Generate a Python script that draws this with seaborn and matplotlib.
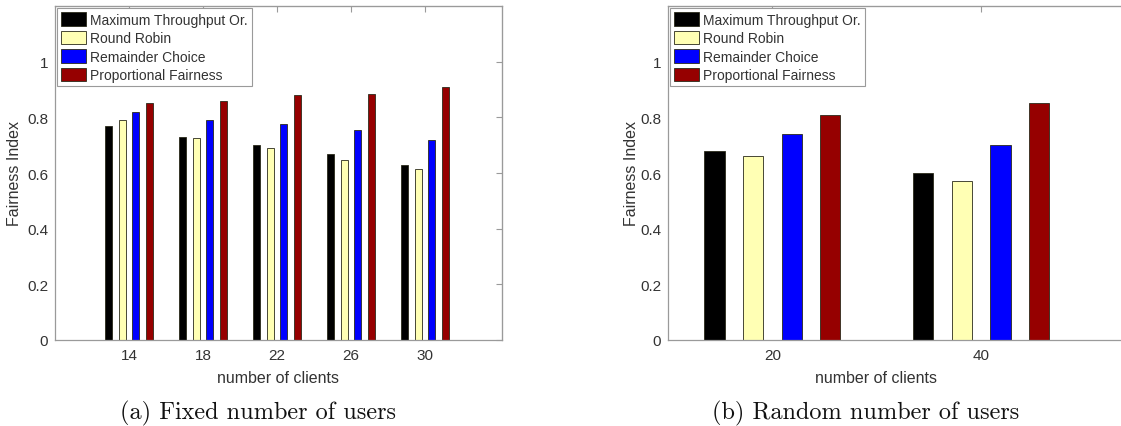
import matplotlib
matplotlib.use("Agg")
import matplotlib.pyplot as plt
import pandas as pd
import seaborn as sns

# Fairness index values
methods = ["Maximum Throughput Or.", "Round Robin", "Remainder Choice", "Proportional Fairness"]
colors = ["#000000", "#FFFFB4", "#0000FF", "#960000"]

clients_a = [14, 18, 22, 26, 30]
max_tp_a = [0.77, 0.73, 0.70, 0.67, 0.63]
round_robin_a = [0.79, 0.725, 0.69, 0.645, 0.615]
remainder_a = [0.82, 0.79, 0.775, 0.755, 0.72]
prop_fair_a = [0.85, 0.86, 0.88, 0.885, 0.91]

clients_b = [20, 40]
max_tp_b = [0.68, 0.60]
round_robin_b = [0.66, 0.57]
remainder_b = [0.74, 0.70]
prop_fair_b = [0.81, 0.85]

y_ticks = [0, 0.2, 0.4, 0.6, 0.8, 1]
y_tick_labels = ["0", "0.2", "0.4", "0.6", "0.8", "1"]


def to_long(clients, series):
    rows = []
    for name, vals in zip(methods, series):
        for c, v in zip(clients, vals):
            rows.append({"clients": str(c), "method": name, "fairness": v})
    return pd.DataFrame(rows)


df_a = to_long(clients_a, [max_tp_a, round_robin_a, remainder_a, prop_fair_a])
df_b = to_long(clients_b, [max_tp_b, round_robin_b, remainder_b, prop_fair_b])

sns.set_style("white")
plt.rcParams["font.family"] = ["Liberation Sans", "DejaVu Sans"]

text_col = "#333333"
spine_col = "#9a9a9a"

fig = plt.figure(figsize=(11.21, 4.27), dpi=100)
W, H = 1121, 427
ax_a = fig.add_axes([55 / W, (H - 341) / H, 447 / W, 334 / H])
ax_b = fig.add_axes([668 / W, (H - 341) / H, 522 / W, 334 / H])


def draw(ax, df, clients, xlim, xlabel_x, ylabel_x):
    sns.barplot(data=df, x="clients", y="fairness", hue="method",
                order=[str(c) for c in clients], hue_order=methods,
                palette=colors, saturation=1, width=0.74, gap=0.48,
                edgecolor="#2a2a1a", linewidth=0.6, ax=ax)
    ax.set_xlim(*xlim)
    ax.set_ylim(0, 1.2)
    ax.set_yticks(y_ticks)
    ax.set_yticklabels(y_tick_labels)
    ax.set_xlabel("number of clients", fontsize=11.5, color=text_col)
    ax.set_ylabel("Fairness Index", fontsize=11.5, color=text_col)
    ax.xaxis.set_label_coords(xlabel_x, -0.09)
    ax.yaxis.set_label_coords(ylabel_x, 0.5)
    for s in ax.spines.values():
        s.set_color(spine_col)
        s.set_linewidth(0.9)
    ax.tick_params(axis="y", direction="out", length=3, pad=2, labelsize=11,
                   colors=spine_col, labelcolor=text_col)
    ax.tick_params(axis="x", direction="in", length=3, pad=6, labelsize=11,
                   colors=spine_col, labelcolor=text_col)
    right = ax.secondary_yaxis("right")
    right.set_yticks(y_ticks)
    right.tick_params(direction="in", length=4, labelright=False, colors=spine_col)
    right.spines["right"].set_color(spine_col)
    top = ax.secondary_xaxis("top")
    top.set_xticks(range(len(clients)))
    top.tick_params(direction="in", length=4, labeltop=False, colors=spine_col)
    top.spines["top"].set_color(spine_col)

    handles, labels = ax.get_legend_handles_labels()
    leg = ax.legend(handles, labels, loc="upper left", fontsize=10,
                    handlelength=1.8, handleheight=1.1, labelspacing=0.3,
                    handletextpad=0.25, borderpad=0.3, borderaxespad=0.15,
                    fancybox=False, framealpha=1, edgecolor=spine_col)
    leg.get_frame().set_linewidth(0.8)
    for t in leg.get_texts():
        t.set_color(text_col)


draw(ax_a, df_a, clients_a, (-1.0, 5.04), 0.499, -0.074)
draw(ax_b, df_b, clients_b, (-0.5, 2.0), 0.398, -0.056)

fig.text(258 / W, 1 - 413 / H, "(a) Fixed number of users", family="cmr10",
         fontsize=17.5, ha="center", va="center", color="#111111")
fig.text(866 / W, 1 - 413 / H, "(b) Random number of users", family="cmr10",
         fontsize=17.5, ha="center", va="center", color="#111111")

fig.savefig("out.png", dpi=100)
